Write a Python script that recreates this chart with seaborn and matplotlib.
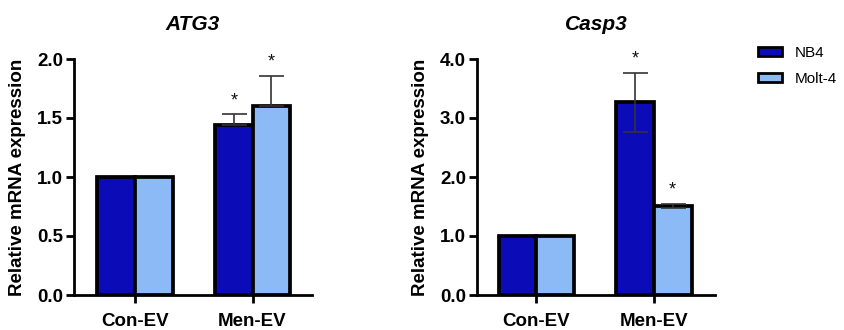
import matplotlib
matplotlib.use("Agg")
import matplotlib.pyplot as plt
import seaborn as sns
import pandas as pd
import numpy as np
from matplotlib.patches import Patch

sns.set_style("ticks", {"axes.edgecolor": "black", "xtick.color": "black",
                        "ytick.color": "black", "text.color": "black",
                        "axes.labelcolor": "black"})
plt.rcParams['font.family'] = ['Liberation Sans', 'DejaVu Sans']

categories = ["Con-EV", "Men-EV"]
cells = ["NB4", "Molt-4"]
colors = ["#0b0bb8", "#8bbaf7"]

genes = ["ATG3", "Casp3"]
atg3_nb4 = [1.0, 1.44]
atg3_molt = [1.0, 1.60]
atg3_err_nb4 = [0.0, 0.09]
atg3_err_molt = [0.0, 0.26]
casp3_nb4 = [1.0, 3.27]
casp3_molt = [1.0, 1.51]
casp3_err_nb4 = [0.0, 0.50]
casp3_err_molt = [0.0, 0.04]

panels = [
    dict(gene="ATG3", vals=[atg3_nb4, atg3_molt], errs=[atg3_err_nb4, atg3_err_molt],
         two_sided=False, ylim=2.0, yticks=[0.0, 0.5, 1.0, 1.5, 2.0],
         stars=[[False, True], [False, True]],
         pos=[74/844, 35/330, 238/844, 236/330], xlim=(-0.52, 1.506)),
    dict(gene="Casp3", vals=[casp3_nb4, casp3_molt], errs=[casp3_err_nb4, casp3_err_molt],
         two_sided=True, ylim=4.0, yticks=[0.0, 1.0, 2.0, 3.0, 4.0],
         stars=[[False, True], [False, True]],
         pos=[477/844, 35/330, 238/844, 236/330], xlim=(-0.506, 1.52)),
]

fig = plt.figure(figsize=(8.44, 3.3), dpi=100)

for p in panels:
    ax = fig.add_axes(p["pos"])
    rows = []
    for ci, cell in enumerate(cells):
        for ki, cat in enumerate(categories):
            rows.append(dict(cat=cat, cell=cell, val=p["vals"][ci][ki]))
    df = pd.DataFrame(rows)
    sns.barplot(data=df, x="cat", y="val", hue="cell", order=categories, hue_order=cells,
                palette=colors, errorbar=None, width=0.64, gap=0,
                edgecolor="black", linewidth=2.7, ax=ax, legend=False, saturation=1)
    bar_conts = list(ax.containers)
    for ci, cont in enumerate(bar_conts):
        for ki, bar in enumerate(cont):
            e = p["errs"][ci][ki]
            x = bar.get_x() + bar.get_width() / 2
            h = bar.get_height()
            if e > 0:
                lower = e if p["two_sided"] else 0
                ax.errorbar(x, h, yerr=[[lower], [e]], fmt="none", ecolor="#333333",
                            elinewidth=1.2, capsize=9, capthick=1.2, zorder=1 if not p["two_sided"] else 5)
            if p["stars"][ci][ki]:
                ax.text(x, h + e + p["ylim"] * 0.02, "*", ha="center", va="bottom",
                        fontsize=13, color="#111111")
    ax.set_ylim(0, p["ylim"])
    ax.set_xlim(*p["xlim"])
    ax.set_yticks(p["yticks"])
    ax.set_yticklabels([f"{t:.1f}" for t in p["yticks"]], fontsize=13.5, fontweight="bold")
    ax.set_xticks([0, 1])
    ax.set_xticklabels(categories, fontsize=13.5, fontweight="bold")
    ax.set_xlabel("")
    ax.set_ylabel("Relative mRNA expression", fontsize=13.5, fontweight="bold", labelpad=8)
    ax.set_title(p["gene"], fontsize=15, fontweight="bold", style="italic", pad=21)
    sns.despine(ax=ax)
    for s in ["left", "bottom"]:
        ax.spines[s].set_linewidth(2.0)
    ax.tick_params(axis="both", width=2.0, length=6, direction="out", pad=2)
    ax.tick_params(axis="x", pad=7)
    ax.set_facecolor("white")

handles = [Patch(facecolor=c, edgecolor="black", linewidth=2, label=l) for c, l in zip(colors, cells)]
fig.legend(handles=handles, loc="upper left", bbox_to_anchor=(744/844, 1 - 32/330),
           frameon=False, fontsize=11, handlelength=1.6, handleheight=0.6,
           labelspacing=0.8, handletextpad=0.8)

fig.savefig("out.png", dpi=100, facecolor="white")
